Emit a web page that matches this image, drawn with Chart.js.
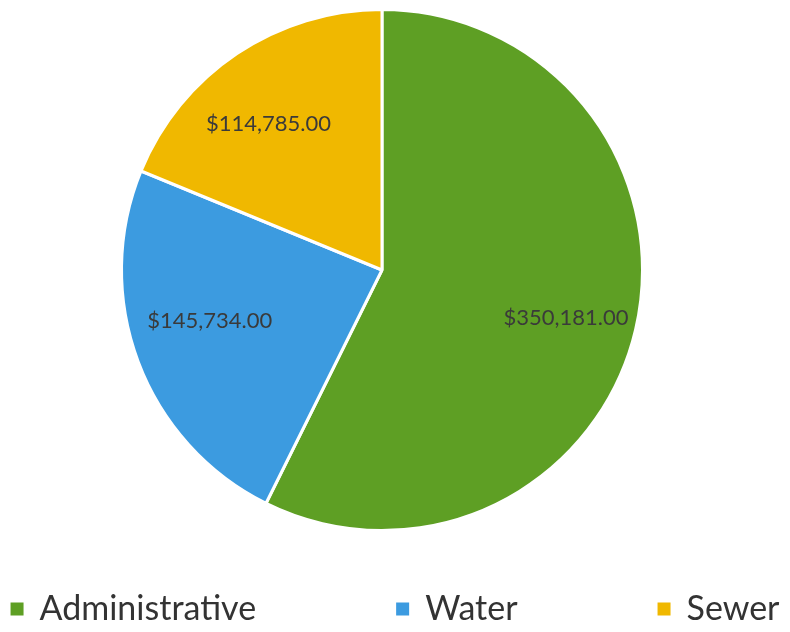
<!DOCTYPE html>
<html><head><meta charset="utf-8">
<script src="https://cdn.jsdelivr.net/npm/chart.js@4"></script>
<style>html,body{margin:0;padding:0;background:#fff}#wrap{width:790px;height:632px}</style>
</head><body><div id="wrap"><canvas id="c" width="790" height="632"></canvas></div>
<script>
const categories = ["Administrative", "Water", "Sewer"];
const amounts = [350181.00, 145734.00, 114785.00];
const sliceColors = ["#5E9F24", "#3C9BE0", "#F0B800"];
const valueLabels = ["$350,181.00", "$145,734.00", "$114,785.00"];

const labelPlugin = {
  id: 'sliceLabels',
  afterDatasetsDraw(chart) {
    const ctx = chart.ctx;
    const meta = chart.getDatasetMeta(0);
    ctx.save();
    ctx.font = '22px Lato, "Liberation Sans", sans-serif';
    ctx.fillStyle = '#3a3a3a';
    ctx.textAlign = 'center';
    ctx.textBaseline = 'middle';
    const radial = [0.73, 0.69, 0.71];
    const nudge = [0.025, 0.07, -0.07];
    meta.data.forEach((arc, i) => {
      const p = arc.getProps(['x','y','startAngle','endAngle','outerRadius'], true);
      const mid = (p.startAngle + p.endAngle) / 2 + nudge[i];
      const r = p.outerRadius * radial[i];
      ctx.fillText(valueLabels[i], p.x + Math.cos(mid) * r, p.y + Math.sin(mid) * r);
    });
    ctx.restore();
  }
};

const legendPlugin = {
  id: 'bottomLegend',
  afterDraw(chart) {
    const ctx = chart.ctx;
    ctx.save();
    ctx.font = '34px Lato, "Liberation Sans", sans-serif';
    ctx.textBaseline = 'middle';
    const box = 13, gapText = 16, gapItem = 140;
    const widths = categories.map(c => box + gapText + ctx.measureText(c).width);
    const total = widths.reduce((a,b)=>a+b,0) + gapItem*(categories.length-1);
    let x = (chart.width - total) / 2;
    const y = 609;
    categories.forEach((c, i) => {
      ctx.fillStyle = sliceColors[i];
      ctx.fillRect(x, y - box/2, box, box);
      ctx.fillStyle = '#333';
      ctx.fillText(c, x + box + gapText, y);
      x += widths[i] + gapItem;
    });
    ctx.restore();
  }
};

new Chart(document.getElementById('c'), {
  type: 'pie',
  data: {
    labels: categories,
    datasets: [{
      data: amounts,
      backgroundColor: sliceColors,
      borderColor: '#ffffff',
      borderWidth: 3
    }]
  },
  options: {
    responsive: false,
    animation: false,
    layout: { padding: { top: 8, bottom: 100, left: 0, right: 26 } },
    plugins: { legend: { display: false }, tooltip: { enabled: false } }
  },
  plugins: [labelPlugin, legendPlugin]
});
</script>
</body></html>
